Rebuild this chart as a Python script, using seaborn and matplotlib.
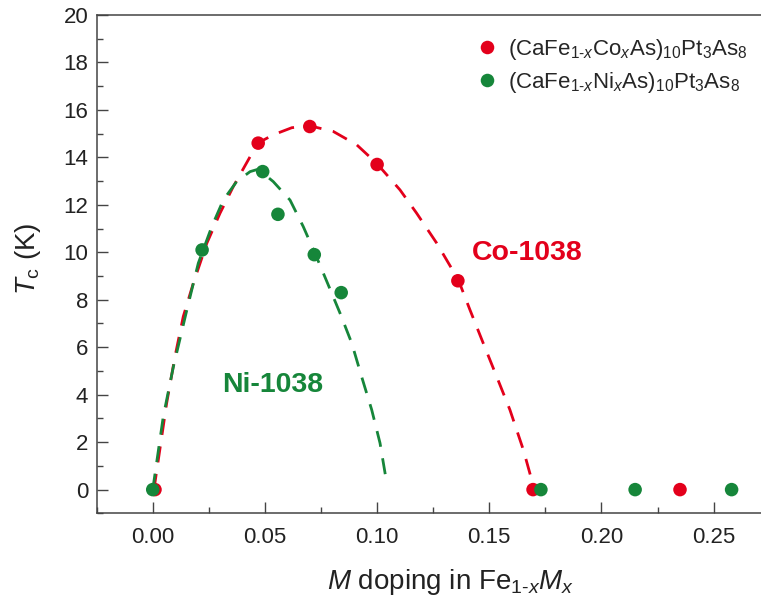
import numpy as np
import pandas as pd
import matplotlib
matplotlib.use("Agg")
import matplotlib.pyplot as plt
import seaborn as sns
from matplotlib.ticker import MultipleLocator

# ---------------- data ----------------
co_x = [0.001, 0.047, 0.070, 0.100, 0.136, 0.1695, 0.235]
co_y = [0.0, 14.6, 15.3, 13.7, 8.8, 0.0, 0.0]
ni_x = [0.0, 0.022, 0.049, 0.0558, 0.072, 0.084, 0.173, 0.215, 0.258]
ni_y = [0.0, 10.1, 13.4, 11.6, 9.9, 8.3, 0.0, 0.0, 0.0]

co_fit_x = [0.0, 0.001, 0.0062, 0.0099, 0.0136, 0.0181, 0.0241, 0.030, 0.0359, 0.0434,
            0.0468, 0.0537, 0.062, 0.070, 0.0805, 0.0909, 0.0998, 0.1102, 0.1176, 0.1266,
            0.1362, 0.1414, 0.1473, 0.1533, 0.1592, 0.1652, 0.1689, 0.1696]
co_fit_y = [0.0, 0.3, 3.64, 5.6, 7.29, 8.7, 10.38, 11.65, 12.77, 14.03,
            14.6, 14.95, 15.25, 15.33, 15.09, 14.53, 13.75, 12.63, 11.65, 10.38,
            8.84, 7.57, 6.17, 4.76, 3.36, 1.67, 0.41, 0.0]
ni_fit_x = [0.0, 0.0047, 0.0092, 0.0152, 0.0203, 0.0263, 0.0315, 0.0374, 0.0434, 0.047,
            0.0537, 0.0612, 0.0671, 0.0723, 0.0779, 0.0835, 0.0887, 0.0931, 0.0976, 0.1013,
            0.1043]
ni_fit_y = [0.0, 3.08, 5.18, 7.57, 9.54, 11.08, 12.21, 12.98, 13.4, 13.5,
            12.98, 12.2, 11.08, 9.96, 8.7, 7.43, 6.17, 4.76, 3.36, 1.96,
            0.27]

series_labels = [r'(CaFe$_{1\text{-}x}$Co$_x$As)$_{10}$Pt$_3$As$_8$',
                 r'(CaFe$_{1\text{-}x}$Ni$_x$As)$_{10}$Pt$_3$As$_8$']
x_ticks = [0.00, 0.05, 0.10, 0.15, 0.20, 0.25]
y_ticks = [0, 2, 4, 6, 8, 10, 12, 14, 16, 18, 20]

RED = '#E3001B'
GREEN = '#16863A'

# ---------------- style ----------------
sns.set_theme(style='ticks')
plt.rcParams['font.family'] = ['Liberation Sans', 'DejaVu Sans']
plt.rcParams['mathtext.fontset'] = 'custom'
plt.rcParams['mathtext.rm'] = 'Liberation Sans'
plt.rcParams['mathtext.it'] = 'Liberation Sans:italic'
plt.rcParams['mathtext.bf'] = 'Liberation Sans:bold'

fig = plt.figure(figsize=(7.61, 5.99), dpi=100)
ax = fig.add_axes([0.127, 0.143, 0.873, 0.832])

pts = pd.DataFrame({
    'x': co_x + ni_x,
    'y': co_y + ni_y,
    'series': [series_labels[0]] * len(co_x) + [series_labels[1]] * len(ni_x),
})
fits = pd.DataFrame({
    'x': co_fit_x + ni_fit_x,
    'y': co_fit_y + ni_fit_y,
    'series': ['Co'] * len(co_fit_x) + ['Ni'] * len(ni_fit_x),
})

sns.lineplot(data=fits, x='x', y='y', hue='series', palette={'Co': RED, 'Ni': GREEN},
             sort=False, estimator=None, legend=False, ax=ax, linewidth=2.0, zorder=2)
for ln in ax.get_lines():
    ln.set_dashes((5.8, 4.2))

sns.scatterplot(data=pts, x='x', y='y', hue='series',
                palette={series_labels[0]: RED, series_labels[1]: GREEN},
                s=95, edgecolor='none', linewidth=0, ax=ax, zorder=3)

ax.set_xlim(-0.025, 0.2711)
ax.set_ylim(-1, 20)
ax.set_xticks(x_ticks)
ax.set_yticks(y_ticks)
ax.set_xticklabels([f'{v:.2f}' for v in x_ticks])
ax.set_yticklabels([str(v) for v in y_ticks])
ax.xaxis.set_minor_locator(MultipleLocator(0.025))
ax.yaxis.set_minor_locator(MultipleLocator(1))
ax.tick_params(which='both', direction='in', color='#444444', width=1.0,
               top=False, right=False, labelsize=16, labelcolor='#222222')
ax.tick_params(axis='x', which='major', length=8, pad=10)
ax.tick_params(axis='y', which='major', length=8, pad=6)
ax.tick_params(which='minor', length=4)
for side in ['left', 'bottom', 'top']:
    ax.spines[side].set_color('#444444')
    ax.spines[side].set_linewidth(1.1)
ax.spines['right'].set_visible(False)

ax.set_xlabel(r'$M$ doping in Fe$_{1\text{-}x}M_x$', fontsize=20, color='#222222')
ax.set_ylabel(r'$T_{\mathrm{c}}$ (K)', fontsize=20, color='#222222')
ax.xaxis.set_label_coords(0.533, -0.108)
ax.yaxis.set_label_coords(-0.080, 0.511)

ax.text(0.167, 9.97, 'Co-1038', color=RED, fontsize=20.5, fontweight='bold',
        ha='center', va='center')
ax.text(0.0533, 4.4, 'Ni-1038', color=GREEN, fontsize=20.5, fontweight='bold',
        ha='center', va='center')

leg = ax.legend(loc='upper left', bbox_to_anchor=(0.6106, 0.957), bbox_transform=fig.transFigure,
                frameon=False, fontsize=16, handlelength=1.0, handletextpad=0.47,
                labelspacing=0.36, borderpad=0, markerscale=1.0)

fig.savefig('out.png', dpi=100)
